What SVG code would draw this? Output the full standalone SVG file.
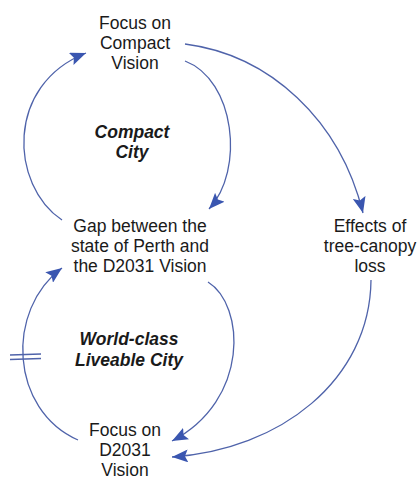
<svg xmlns="http://www.w3.org/2000/svg" width="419" height="479" viewBox="0 0 419 479">
<defs>
<marker id="ah" markerUnits="userSpaceOnUse" markerWidth="17" markerHeight="13" refX="16" refY="6.5" orient="auto">
<path d="M0,0 L16,6.5 L0,13 L3,6.5 Z" fill="#3a56b0"/>
</marker>
<style>
.t{font-family:"Liberation Sans",Arial,sans-serif;font-size:17.5px;fill:#1a1a1a;text-anchor:middle}
.b{font-weight:bold;font-style:italic}
.c{fill:none;stroke:#4f63aa;stroke-width:1.3}
</style>
</defs>
<rect width="419" height="479" fill="#ffffff"/>
<g id="connectors">
<path class="c" d="M62,220 C10,185 5,85 86,53" marker-end="url(#ah)"/>
<path class="c" d="M185,61 C235,80 245,170 209,209" marker-end="url(#ah)"/>
<path class="c" d="M185,44 C270,55 340,120 363,213" marker-end="url(#ah)"/>
<path class="c" d="M208,282 C245,305 250,400 172,441" marker-end="url(#ah)"/>
<path class="c" d="M78,440 C10,410 5,310 62,268" marker-end="url(#ah)"/>
<path class="c" d="M371,280 C370,380 280,450 172,457" marker-end="url(#ah)"/>
<g id="delay" stroke="#4f63aa" stroke-width="1.3">
<line x1="10" y1="355" x2="41" y2="354"/>
<line x1="10" y1="359.5" x2="41" y2="358.5"/>
</g>
</g>
<g id="focus-compact">
<text class="t" x="135" y="29">Focus on</text>
<text class="t" x="135" y="49">Compact</text>
<text class="t" x="135" y="69">Vision</text>
</g>
<g id="loop-compact">
<text class="t b" x="132" y="138">Compact</text>
<text class="t b" x="132" y="158">City</text>
</g>
<g id="gap">
<text class="t" x="140" y="232">Gap between the</text>
<text class="t" x="140" y="252">state of Perth and</text>
<text class="t" x="140" y="272">the D2031 Vision</text>
</g>
<g id="effects">
<text class="t" x="370" y="232">Effects of</text>
<text class="t" x="370" y="252">tree-canopy</text>
<text class="t" x="370" y="272">loss</text>
</g>
<g id="loop-liveable">
<text class="t b" x="129" y="345">World-class</text>
<text class="t b" x="129" y="366">Liveable City</text>
</g>
<g id="focus-d2031">
<text class="t" x="125" y="435.5">Focus on</text>
<text class="t" x="125" y="455.5">D2031</text>
<text class="t" x="125" y="475.5">Vision</text>
</g>
</svg>
